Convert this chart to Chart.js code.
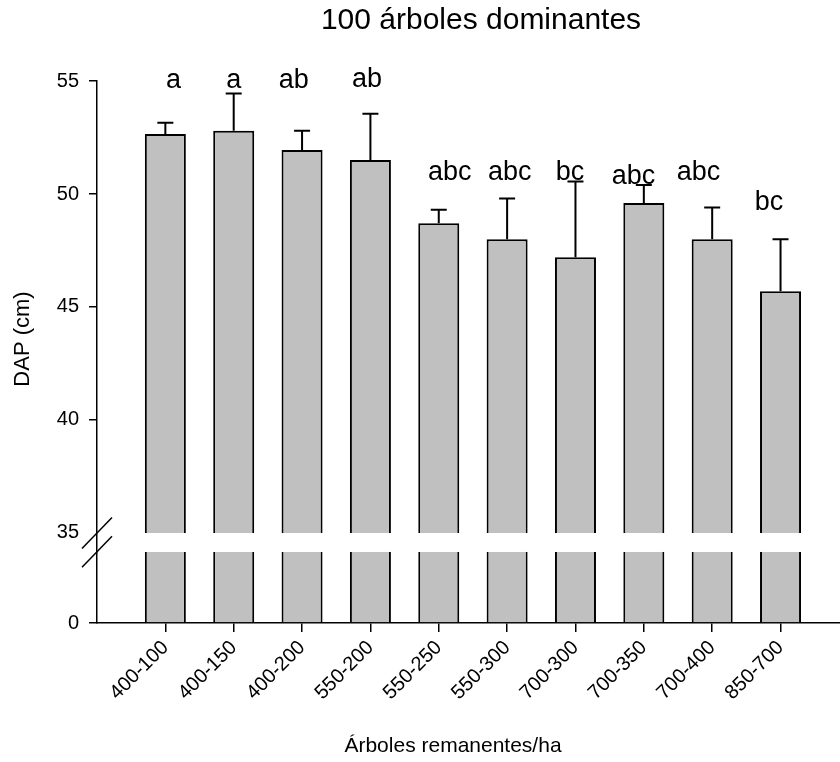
<!DOCTYPE html>
<html lang="es">
<head>
<meta charset="utf-8">
<title>100 árboles dominantes</title>
<script src="https://cdn.jsdelivr.net/npm/chart.js@4.4.1/dist/chart.umd.min.js"></script>
<style>
    body { margin: 0; background: #fff; }
    canvas { display: block; }
</style>
</head>
<body>
<canvas id="dapChart" width="840" height="762"></canvas>
<script>
        // Datos
        const categorias = ["400-100", "400-150", "400-200", "550-200", "550-250", "550-300", "700-300", "700-350", "700-400", "850-700"];
        const dapMedia = [52.65, 52.8, 51.95, 51.5, 48.7, 48.0, 47.2, 49.6, 48.0, 45.7];
        const dapError = [0.5, 1.65, 0.85, 2.05, 0.6, 1.8, 3.35, 0.8, 1.4, 2.3];
        const letras = ["a", "a", "ab", "ab", "abc", "abc", "bc", "abc", "abc", "bc"];
        // posicion de las letras en unidades de los ejes
        const letrasX = [1.12, 2.0, 2.88, 3.95, 5.16, 6.04, 6.92, 7.85, 8.8, 9.83];
        const letrasY = [54.7, 54.7, 54.7, 54.75, 50.6, 50.6, 50.6, 50.45, 50.6, 49.3];
        const ticksY = [35, 40, 45, 50, 55];

        // Corte del eje Y
        const CORTE = 35;
        const TRAMO_BAJO_MAX = 3.15;

        const fuente = '"Liberation Sans", Arial, Helvetica, sans-serif';
        Chart.defaults.font.family = fuente;
        Chart.defaults.color = '#000';

        // Barras de error, letras, corte y titulos
        const extras = {
            id: 'extras',
            afterDatasetsDraw(chart) {
                const ctx = chart.ctx;
                const x = chart.scales.x;
                const yAlto = chart.scales.yAlto;
                const yBajo = chart.scales.yBajo;
                const area = chart.chartArea;

                ctx.save();
                ctx.strokeStyle = '#000';
                ctx.lineWidth = 2;
                dapMedia.forEach((v, i) => {
                    const px = x.getPixelForValue(i + 1);
                    const y0 = yAlto.getPixelForValue(v);
                    const y1 = yAlto.getPixelForValue(v + dapError[i]);
                    ctx.beginPath();
                    ctx.moveTo(px, y0);
                    ctx.lineTo(px, y1);
                    ctx.moveTo(px - 8, y1);
                    ctx.lineTo(px + 8, y1);
                    ctx.stroke();
                });

                ctx.fillStyle = '#000';
                ctx.font = '27px ' + fuente;
                ctx.textAlign = 'center';
                ctx.textBaseline = 'alphabetic';
                letras.forEach((l, i) => {
                    ctx.fillText(l, x.getPixelForValue(letrasX[i]), yAlto.getPixelForValue(letrasY[i]));
                });

                // marcas de corte
                ctx.lineWidth = 1.5;
                const cortes = [yAlto.getPixelForValue(CORTE), yBajo.top];
                cortes.forEach(c => {
                    ctx.beginPath();
                    ctx.moveTo(area.left - 15, c + 15.5);
                    ctx.lineTo(area.left + 15, c - 15.5);
                    ctx.stroke();
                });

                // titulos
                ctx.font = '30px ' + fuente;
                ctx.textBaseline = 'middle';
                ctx.fillText('100 árboles dominantes', 481, 21);
                ctx.font = '21px ' + fuente;
                ctx.fillText('Árboles remanentes/ha', 453, 746);
                ctx.font = '22px ' + fuente;
                ctx.translate(23, 339);
                ctx.rotate(-Math.PI / 2);
                ctx.fillText('DAP (cm)', 0, 0);
                ctx.restore();
            }
        };

        function initChart() {
            const ctx = document.getElementById('dapChart').getContext('2d');
            const ejeComun = {
                type: 'linear',
                position: 'left',
                stack: 'dap',
                border: { color: '#000', width: 1.5 },
                grid: {
                    drawOnChartArea: false,
                    tickLength: 8,
                    lineWidth: 1.5,
                    color: c => (c.tick && c.tick.value === CORTE) ? 'rgba(0,0,0,0)' : '#000'
                },
                ticks: { padding: 10, font: { size: 20 } },
                afterFit: s => { s.width = 97; }
            };

            new Chart(ctx, {
                type: 'bar',
                data: {
                    datasets: [
                        {
                            label: 'DAP',
                            data: dapMedia.map((v, i) => ({ x: i + 1, y: [CORTE, v] })),
                            yAxisID: 'yAlto',
                            backgroundColor: '#c0c0c0',
                            borderColor: '#000',
                            borderWidth: 2,
                            borderSkipped: 'start',
                            grouped: false,
                            categoryPercentage: 1,
                            barPercentage: 0.6
                        },
                        {
                            label: 'DAP base',
                            data: dapMedia.map((v, i) => ({ x: i + 1, y: Math.min(v, TRAMO_BAJO_MAX) })),
                            yAxisID: 'yBajo',
                            backgroundColor: '#c0c0c0',
                            borderColor: '#000',
                            borderWidth: { left: 2, right: 2, top: 0, bottom: 0 },
                            borderSkipped: false,
                            grouped: false,
                            categoryPercentage: 1,
                            barPercentage: 0.6
                        }
                    ]
                },
                options: {
                    responsive: false,
                    animation: false,
                    layout: { padding: { top: 81, left: 0, right: 0, bottom: 0 } },
                    plugins: {
                        legend: { display: false },
                        tooltip: { enabled: false }
                    },
                    scales: {
                        x: {
                            type: 'linear',
                            min: 0,
                            max: 10.87,
                            offset: false,
                            border: { color: '#000', width: 1.5 },
                            grid: { offset: false, drawOnChartArea: false, tickLength: 9, lineWidth: 1.5, color: '#000' },
                            ticks: {
                                stepSize: 1,
                                minRotation: 45,
                                maxRotation: 45,
                                padding: 4,
                                font: { size: 20 },
                                callback: v => categorias[v - 1] || ''
                            },
                            afterBuildTicks: s => {
                                s.ticks = s.ticks.filter(t => t.value >= 1 && t.value <= categorias.length);
                            },
                            afterFit: s => { s.height = 139; }
                        },
                        yBajo: Object.assign({}, ejeComun, {
                            min: 0,
                            max: TRAMO_BAJO_MAX,
                            stackWeight: 71.3,
                            afterBuildTicks: s => {
                                s.ticks = [{ value: 0 }];
                            }
                        }),
                        yAlto: Object.assign({}, ejeComun, {
                            min: 34.17,
                            max: 55,
                            stackWeight: 470.7,
                            afterBuildTicks: s => {
                                s.ticks = ticksY.map(v => ({ value: v }));
                            }
                        })
                    }
                },
                plugins: [extras]
            });
        }

        initChart();
</script>
</body>
</html>
